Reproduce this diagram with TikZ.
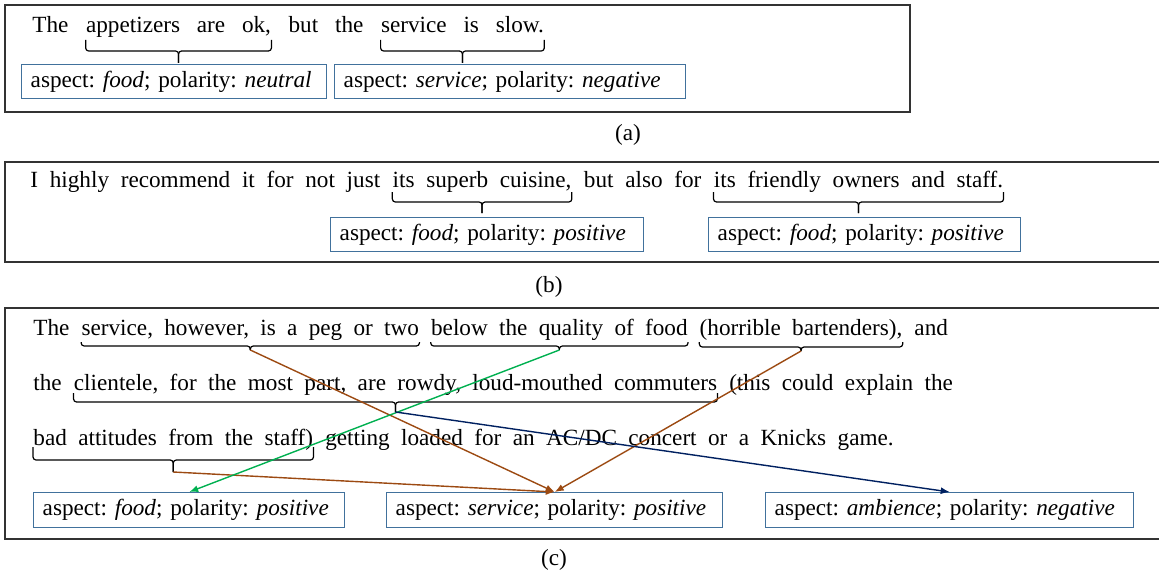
\documentclass[tikz,border=0pt]{standalone}
\usepackage{fontspec}
\setmainfont{Liberation Serif}
\usetikzlibrary{positioning,calc,arrows.meta}

\definecolor{boxblue}{HTML}{41719C}
\definecolor{arrowbrown}{HTML}{9C4A12}
\definecolor{arrowgreen}{HTML}{00B050}
\definecolor{arrownavy}{HTML}{002060}

\newcommand{\txt}{\fontsize{11.6pt}{14pt}\selectfont\frenchspacing}
% brace under a text piece: node, tick top, bar, tip (px below the baseline), name of the tip
\newcommand{\spanbrace}[5]{%
  \draw[bracket] (#1.base west) ++(0,#2) |- ($(#1.base)+(0,#3)$) -- ($(#1.base)+(0,#4)$) coordinate (#5);
  \draw[bracket] (#1.base east) ++(0,#2) |- ($(#1.base)+(0,#3)$) -- ($(#1.base)+(0,#4)$);
}

\begin{document}
\begin{tikzpicture}[x=0.5pt,y=-0.5pt,
  seg/.style={inner sep=0pt, font={\txt\spaceskip=#1\relax}},
  aspbox/.style={draw=boxblue, line width=0.7pt, anchor=north west, inner xsep=4.5pt,
    inner ysep=0pt, minimum height=17pt, align=left, font={\txt\hyphenpenalty=10000}},
  frame/.style={draw=black!80, line width=0.6pt},
  bracket/.style={line width=0.6pt, rounded corners=1.5pt},
  link/.style={line width=0.7pt, -{Latex[length=4.5pt,width=3.5pt]}},
  caption/.style={font=\txt}]
% Parameters
\def\gapA{8.4pt}
\def\gapB{5.85pt}
\def\gapC{5.65pt}
\def\gapD{5.7pt}

\useasboundingbox (0,0) rectangle (1159,572);

% (a)
\draw[frame] (5,5) rectangle (910,112);
\node[seg=\gapA, anchor=base west] (tA0) at (32,33) {The};
\node[seg=\gapA, base right=\gapA of tA0] (tA1) {appetizers are ok,};
\node[seg=\gapA, base right=\gapA of tA1] (tA2) {but the};
\node[seg=\gapA, base right=\gapA of tA2] (tA3) {service is slow.};
\spanbrace{tA1}{7}{18}{30}{bA1}
\spanbrace{tA3}{7}{18}{30}{bA3}
\node[aspbox, text width=143.5pt] (boxA1) at (21,64) {aspect: \textit{food}; polarity: \textit{neutral}};
\node[aspbox, text width=166.5pt] (boxA2) at (334,64) {aspect: \textit{service}; polarity: \textit{negative}};
\node[caption] (capA) at (628,135) {(a)};

% (b)
\draw[frame] (5,162) rectangle (1161,262);
\node[seg=\gapB, anchor=base west] (tB0) at (30,188) {I highly recommend it for not just};
\node[seg=\gapB, base right=\gapB of tB0] (tB1) {its superb cuisine,};
\node[seg=\gapB, base right=\gapB of tB1] (tB2) {but also for};
\node[seg=\gapB, base right=\gapB of tB2] (tB3) {its friendly owners and staff.};
\spanbrace{tB1}{4}{14}{25}{bB1}
\spanbrace{tB3}{4}{14}{25}{bB3}
\node[aspbox, text width=147.5pt] (boxB1) at (330,217) {aspect: \textit{food}; polarity: \textit{positive}};
\node[aspbox, text width=147pt] (boxB2) at (708,217) {aspect: \textit{food}; polarity: \textit{positive}};
\node[caption] (capB) at (549,287) {(b)};

% (c)
\draw[frame] (5,308) rectangle (1161,539);
\node[seg=\gapC, anchor=base west] (tC0) at (33,335) {The};
\node[seg=\gapC, base right=\gapC of tC0] (tC1) {service, however, is a peg or two};
\node[seg=\gapC, base right=\gapC of tC1] (tC2) {below the quality of food};
\node[seg=\gapC, base right=\gapC of tC2] (tC3) {(horrible bartenders),};
\node[seg=\gapC, base right=\gapC of tC3] (tC4) {and};
\node[seg=\gapD, anchor=base west] (tD0) at (33,390) {the};
\node[seg=\gapD, base right=\gapD of tD0] (tD1) {clientele, for the most part, are rowdy, loud-mouthed commuters};
\node[seg=\gapD, base right=\gapD of tD1] (tD2) {(this could explain the};
\node[seg=\gapD, anchor=base west] (tE1) at (33,445) {bad attitudes from the staff)};
\node[seg=\gapD, base right=\gapD of tE1] (tE2) {getting loaded for an AC/DC concert or a Knicks game.};
\spanbrace{tC1}{7}{11}{15}{bC1}
\spanbrace{tC2}{7}{11}{15}{bC2}
\spanbrace{tC3}{7}{12}{16}{bC3}
\spanbrace{tD1}{3}{12}{22}{bD1}
\spanbrace{tE1}{2}{15}{27}{bE1}
\node[aspbox, text width=146.5pt, minimum height=17.5pt] (boxC1) at (33,492) {aspect: \textit{food}; polarity: \textit{positive}};
\node[aspbox, text width=159pt, minimum height=17.5pt] (boxC2) at (386,492) {aspect: \textit{service}; polarity: \textit{positive}};
\node[aspbox, text width=175pt, minimum height=17.5pt] (boxC3) at (765,492) {aspect: \textit{ambience}; polarity: \textit{negative}};
\node[caption] (capC) at (554,560) {(c)};

% links
\draw[link, arrowbrown] (bC1) -- (boxC2.north);
\draw[link, arrowbrown] (bC3) -- (boxC2.north);
\draw[link, arrowbrown] (bE1) -- (boxC2.north);
\draw[link, arrowgreen] (bC2) -- (boxC1.north);
\draw[link, arrownavy] (bD1) -- (boxC3.north);
\end{tikzpicture}
\end{document}
